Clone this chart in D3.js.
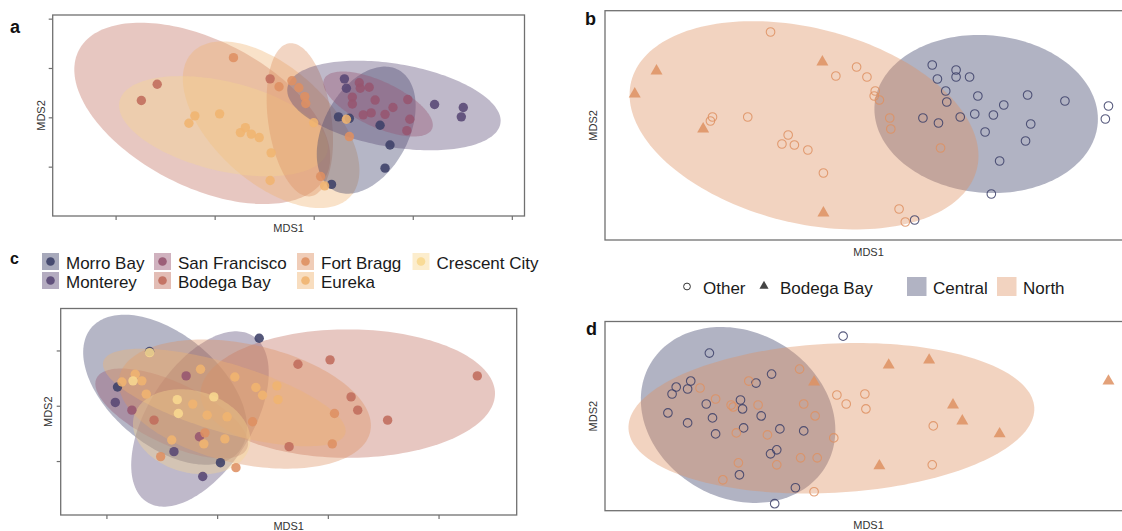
<!DOCTYPE html>
<html>
<head>
<meta charset="utf-8">
<script src="https://cdn.jsdelivr.net/npm/d3@7"></script>
<style>
  body { margin: 0; background: #fff; }
  text { font-family: "Liberation Sans", Arial, sans-serif; }
</style>
</head>
<body>
<svg id="fig" width="1122" height="531"></svg>
<script>
// ---- sites and palettes ----
const sites = ["Morro Bay", "Monterey", "San Francisco", "Bodega Bay", "Fort Bragg", "Eureka", "Crescent City"];
const siteColors = ["#3c4068", "#584774", "#965570", "#c06c5c", "#de9062", "#f0b470", "#f8d890"];
const regions = ["Central", "North"];
const regionColors = ["#3c4068", "#de9062"];
const sources = ["Other", "Bodega Bay"];

// ---- panel a: NMDS scores by site [site, MDS1, MDS2] ----
const pointsA = [
  ["Morro Bay", 0.36, -0.02], ["Morro Bay", 0.67, -0.16], ["Morro Bay", 0.77, -0.56],
  ["Morro Bay", 0.72, -1.03], ["Morro Bay", 0.18, -1.36], ["Morro Bay", 0.25, 0.01],
  ["Monterey", 1.22, 0.26], ["Monterey", 1.51, 0.20], ["Monterey", 1.49, 0.01],
  ["Monterey", 0.31, 0.78], ["Monterey", 0.33, 0.59],
  ["San Francisco", 0.46, 0.70], ["San Francisco", 0.47, 0.59], ["San Francisco", 0.56, 0.61],
  ["San Francisco", 0.39, 0.41], ["San Francisco", 0.39, 0.27], ["San Francisco", 0.62, 0.35],
  ["San Francisco", 0.80, 0.20], ["San Francisco", 0.72, 0.06], ["San Francisco", 0.58, 0.09],
  ["San Francisco", 0.50, 0.05], ["San Francisco", 0.95, 0.36], ["San Francisco", 0.97, -0.04],
  ["San Francisco", 0.94, -0.27],
  ["Bodega Bay", -1.58, 0.67], ["Bodega Bay", -1.74, 0.34], ["Bodega Bay", -0.44, 0.78],
  ["Fort Bragg", -0.81, 1.21], ["Fort Bragg", -0.35, 0.62], ["Fort Bragg", -0.22, 0.74],
  ["Fort Bragg", -0.15, 0.60], ["Fort Bragg", -0.09, 0.42], ["Fort Bragg", -0.08, 0.28],
  ["Fort Bragg", 0.07, -1.20], ["Fort Bragg", 0.36, -0.39],
  ["Eureka", -1.26, -0.12], ["Eureka", -1.20, 0.03], ["Eureka", -0.95, 0.07],
  ["Eureka", -0.74, -0.31], ["Eureka", -0.69, -0.21], ["Eureka", -0.63, -0.34],
  ["Eureka", -0.55, -0.41], ["Eureka", -0.43, -0.72], ["Eureka", -0.44, -1.28],
  ["Eureka", 0.00, -0.11], ["Eureka", 0.11, -1.39], ["Eureka", 0.33, -0.04]
];
// confidence ellipses [group, centre MDS1, centre MDS2, semi-major, semi-minor, tilt deg]
const ellipsesA = [
  ["Bodega Bay", -1.125, 0.08, 1.40, 0.74, 27],
  ["Eureka", -0.43, -0.15, 1.08, 0.58, 42],
  ["Crescent City", -0.91, -0.18, 1.08, 0.45, 13.6],
  ["Fort Bragg", -0.14, -0.05, 0.78, 0.32, 82],
  ["Morro Bay", 0.53, -0.26, 0.69, 0.43, -62],
  ["Monterey", 0.81, 0.24, 1.09, 0.42, 9.6],
  ["San Francisco", 0.65, 0.27, 0.60, 0.23, 25]
];

// ---- panel b: [region, source, MDS1, MDS2] ----
const pointsB = [
  ["Central", "Other", 0.73, 0.55], ["Central", "Other", 0.96, 0.50], ["Central", "Other", 0.96, 0.43],
  ["Central", "Other", 1.09, 0.43], ["Central", "Other", 0.78, 0.41], ["Central", "Other", 0.86, 0.29],
  ["Central", "Other", 0.87, 0.18], ["Central", "Other", 1.17, 0.24], ["Central", "Other", 1.42, 0.15],
  ["Central", "Other", 1.65, 0.25], ["Central", "Other", 2.01, 0.19], ["Central", "Other", 2.43, 0.14],
  ["Central", "Other", 2.40, 0.01], ["Central", "Other", 0.64, 0.02], ["Central", "Other", 0.79, -0.03],
  ["Central", "Other", 1.00, 0.03], ["Central", "Other", 1.14, 0.06], ["Central", "Other", 1.32, 0.05],
  ["Central", "Other", 1.68, -0.04], ["Central", "Other", 1.24, -0.12], ["Central", "Other", 1.63, -0.21],
  ["Central", "Other", 1.38, -0.41], ["Central", "Other", 1.30, -0.74], ["Central", "Other", 0.56, -1.00],
  ["North", "Other", -0.83, 0.88], ["North", "Other", -0.20, 0.44], ["North", "Other", 0.00, 0.53],
  ["North", "Other", 0.10, 0.43], ["North", "Other", 0.18, 0.29], ["North", "Other", 0.17, 0.24],
  ["North", "Other", 0.22, 0.20], ["North", "Other", -1.05, 0.03], ["North", "Other", -1.39, 0.03],
  ["North", "Other", -1.41, -0.01], ["North", "Other", 0.32, 0.02], ["North", "Other", 0.33, -0.09],
  ["North", "Other", -0.66, -0.15], ["North", "Other", -0.72, -0.24], ["North", "Other", -0.60, -0.25],
  ["North", "Other", -0.47, -0.30], ["North", "Other", -0.32, -0.53], ["North", "Other", 0.81, -0.28],
  ["North", "Other", 0.41, -0.89], ["North", "Other", 0.47, -1.02],
  ["North", "Bodega Bay", -1.93, 0.49], ["North", "Bodega Bay", -2.14, 0.26], ["North", "Bodega Bay", -0.33, 0.58],
  ["North", "Bodega Bay", -0.32, -0.93], ["North", "Bodega Bay", -1.48, -0.09]
];
const ellipsesB = [
  ["Central", 1.25, 0.06, 1.08, 0.76, 5],
  ["North", -0.507, -0.053, 1.72, 0.94, 14.3]
];

// ---- panel c: [site, MDS1, MDS2] ----
const pointsC = [
  ["Morro Bay", 0.38, 1.22], ["Morro Bay", -0.61, 0.98], ["Morro Bay", -0.90, 0.34], ["Morro Bay", 0.03, -1.03],
  ["Monterey", -0.13, -1.28], ["Monterey", -0.39, -0.83], ["Monterey", -0.92, 0.06],
  ["San Francisco", -0.77, -0.08], ["San Francisco", -0.28, 0.54], ["San Francisco", -0.16, -0.56],
  ["Bodega Bay", 2.35, 0.54], ["Bodega Bay", 1.02, 0.83], ["Bodega Bay", 0.73, 0.75], ["Bodega Bay", 1.21, 0.16],
  ["Bodega Bay", 1.27, -0.08], ["Bodega Bay", 1.54, -0.26], ["Bodega Bay", 0.65, -0.74], ["Bodega Bay", -0.57, -0.26],
  ["Fort Bragg", 0.17, -1.12], ["Fort Bragg", 1.06, -0.14], ["Fort Bragg", 1.04, -0.69], ["Fort Bragg", -0.51, -0.92],
  ["Fort Bragg", -0.11, -0.49], ["Fort Bragg", 0.32, -0.29],
  ["Eureka", 0.54, 0.36], ["Eureka", 0.55, 0.11], ["Eureka", 0.35, 0.33], ["Eureka", 0.16, 0.52],
  ["Eureka", -0.68, 0.45], ["Eureka", -0.74, 0.57], ["Eureka", -0.86, 0.43], ["Eureka", -0.64, 0.21],
  ["Eureka", -0.15, 0.66], ["Eureka", 0.09, -0.20], ["Eureka", -0.09, -0.17], ["Eureka", -0.22, 0.03],
  ["Eureka", 0.07, -0.60], ["Eureka", -0.12, -0.69], ["Eureka", -0.41, -0.62], ["Eureka", 0.41, 0.19],
  ["Crescent City", -0.61, 0.96], ["Crescent City", -0.76, 0.45], ["Crescent City", -0.03, 0.16],
  ["Crescent City", -0.36, 0.11], ["Crescent City", -0.35, -0.14]
];
const ellipsesC = [
  ["Morro Bay", -0.47, 0.29, 0.87, 0.50, 40],
  ["Monterey", -0.155, -0.24, 0.89, 0.47, -57.5],
  ["San Francisco", -0.41, -0.14, 0.75, 0.28, 25],
  ["Bodega Bay", 1.18, 0.22, 1.33, 0.58, 0],
  ["Fort Bragg", 0.25, 0.03, 1.16, 0.54, 12.4],
  ["Eureka", 0.065, 0.15, 1.14, 0.31, 16.6],
  ["Crescent City", -0.23, -0.47, 0.54, 0.37, 15]
];

// ---- panel d: [region, source, MDS1, MDS2] ----
const pointsD = [
  ["Central", "Other", -1.42, 0.64], ["Central", "Other", -0.13, 0.81], ["Central", "Other", -1.82, 0.04],
  ["Central", "Other", -1.78, 0.23], ["Central", "Other", -1.74, 0.30], ["Central", "Other", -1.63, 0.28],
  ["Central", "Other", -1.60, 0.36], ["Central", "Other", -1.63, -0.06], ["Central", "Other", -1.45, 0.13],
  ["Central", "Other", -1.39, -0.01], ["Central", "Other", -1.36, -0.17], ["Central", "Other", -1.12, 0.17],
  ["Central", "Other", -1.10, 0.08], ["Central", "Other", -1.09, -0.11], ["Central", "Other", -0.97, 0.34],
  ["Central", "Other", -0.92, 0.01], ["Central", "Other", -0.82, 0.43], ["Central", "Other", -0.74, -0.12],
  ["Central", "Other", -0.77, -0.33], ["Central", "Other", -0.83, -0.37], ["Central", "Other", -0.51, -0.14],
  ["Central", "Other", -1.13, -0.58], ["Central", "Other", -0.59, -0.71], ["Central", "Other", -0.79, -0.87],
  ["North", "Other", -1.51, 0.29], ["North", "Other", -1.36, 0.18], ["North", "Other", -1.21, 0.12],
  ["North", "Other", -1.19, 0.10], ["North", "Other", -1.04, 0.36], ["North", "Other", -0.95, 0.12],
  ["North", "Other", -1.16, -0.16], ["North", "Other", -0.86, -0.18], ["North", "Other", -0.55, 0.48],
  ["North", "Other", -0.51, 0.13], ["North", "Other", -0.40, 0.01], ["North", "Other", -0.22, -0.21],
  ["North", "Other", -0.19, 0.22], ["North", "Other", -0.10, 0.13], ["North", "Other", 0.08, 0.23],
  ["North", "Other", 0.09, 0.08], ["North", "Other", -0.54, -0.41], ["North", "Other", -0.38, -0.41],
  ["North", "Other", -1.14, -0.46], ["North", "Other", -0.77, -0.48], ["North", "Other", -1.29, -0.63],
  ["North", "Other", -0.41, -0.75], ["North", "Other", 0.74, -0.09], ["North", "Other", 0.73, -0.48],
  ["North", "Bodega Bay", -0.41, 0.35], ["North", "Bodega Bay", 0.31, 0.52], ["North", "Bodega Bay", 0.70, 0.57],
  ["North", "Bodega Bay", 0.93, 0.12], ["North", "Bodega Bay", 1.02, -0.04], ["North", "Bodega Bay", 1.38, -0.17],
  ["North", "Bodega Bay", 0.22, -0.49], ["North", "Bodega Bay", 2.43, 0.36]
];
const ellipsesD = [
  ["Central", -1.143, 0.02, 0.98, 0.80, 30],
  ["North", -0.243, -0.013, 1.96, 0.72, -3]
];

// ---- tick values ----
const ticksAx = [-2, -1, 0, 1, 2];
const ticksAy = [-1, 0, 1, 2];
const ticksCx = [-1, 0, 1, 2];
const ticksCy = [-1, 0, 1];

// ---- page layout ----
const panels = {
  a: { x0: 52.7, x1: 524.5, y0: 15, y1: 216, xDom: [-2.635, 2.128], yDom: [-2.0, 2.074], xt: ticksAx, yt: ticksAy,
       letter: [10, 33, 18], mds1: 232, mds2x: 44.5 },
  b: { x0: 605, x1: 1132, y0: 10.7, y1: 240, xDom: [-2.427, 2.657], yDom: [-1.2, 1.093], xt: [], yt: [],
       letter: [585, 25, 18], mds1: 255.5, mds2x: 597 },
  c: { x0: 60.7, x1: 516.7, y0: 308.5, y1: 515, xDom: [-1.413, 2.706], yDom: [-1.976, 1.759], xt: ticksCx, yt: ticksCy,
       letter: [10, 264, 16], mds1: 530, mds2x: 52 },
  d: { x0: 605, x1: 1132, y0: 321.5, y1: 510.7, xDom: [-2.427, 2.657], yDom: [-0.94, 0.957], xt: [], yt: [],
       letter: [586, 335, 18], mds1: 528.5, mds2x: 597 }
};

const svg = d3.select("#fig");
svg.append("rect").attr("width", 1122).attr("height", 531).attr("fill", "#fff");
const siteColor = d3.scaleOrdinal(sites, siteColors);
const regionColor = d3.scaleOrdinal(regions, regionColors);
const shape = d3.scaleOrdinal(sources, [d3.symbolCircle, d3.symbolTriangle]);

const FRAME = "#707070";
const ELL_ALPHA = 0.38;

function makePanel(key) {
  const P = panels[key];
  const x = d3.scaleLinear().domain(P.xDom).range([P.x0, P.x1]);
  const y = d3.scaleLinear().domain(P.yDom).range([P.y1, P.y0]);
  const g = svg.append("g").attr("class", "panel-" + key);
  g.append("clipPath").attr("id", "clip-" + key)
    .append("rect").attr("x", P.x0).attr("y", P.y0).attr("width", P.x1 - P.x0).attr("height", P.y1 - P.y0);
  const plot = g.append("g").attr("clip-path", `url(#clip-${key})`);

  // axes (ticks only, no labels)
  if (P.xt.length) {
    const ax = g.append("g").attr("transform", `translate(0,${P.y1})`)
      .call(d3.axisBottom(x).tickValues(P.xt).tickSize(4).tickFormat(""));
    ax.select(".domain").remove();
    ax.selectAll("line").attr("stroke", FRAME).attr("stroke-width", 1.2);
  }
  if (P.yt.length) {
    const ay = g.append("g").attr("transform", `translate(${P.x0},0)`)
      .call(d3.axisLeft(y).tickValues(P.yt).tickSize(4).tickFormat(""));
    ay.select(".domain").remove();
    ay.selectAll("line").attr("stroke", FRAME).attr("stroke-width", 1.2);
  }

  // titles and panel letter
  g.append("text").attr("x", (P.x0 + P.x1) / 2).attr("y", P.mds1)
    .attr("text-anchor", "middle").attr("font-size", 11).attr("fill", "#333").text("MDS1");
  g.append("text").attr("transform", `translate(${P.mds2x},${(P.y0 + P.y1) / 2}) rotate(-90)`)
    .attr("text-anchor", "middle").attr("font-size", 11).attr("fill", "#333").text("MDS2");
  g.append("text").attr("x", P.letter[0]).attr("y", P.letter[1])
    .attr("font-size", P.letter[2]).attr("font-weight", "bold").attr("fill", "#111").text(key);

  return { g, plot, x, y, P };
}

function ellipsePath(x, y, e) {
  const [, cx, cy, a, b, ang] = e;
  const kx = x(1) - x(0), ky = y(0) - y(1);
  const th = ang * Math.PI / 180;
  const pts = d3.range(0, 360, 2).map(deg => {
    const t = deg * Math.PI / 180;
    const ux = a * Math.cos(t) * Math.cos(th) - b * Math.sin(t) * Math.sin(th);
    const uy = a * Math.cos(t) * Math.sin(th) + b * Math.sin(t) * Math.cos(th);
    return [cx + ux, cy - uy * kx / ky];
  });
  return d3.line().x(d => x(d[0])).y(d => y(d[1])).curve(d3.curveLinearClosed)(pts);
}

function drawFrame(p) {
  const P = p.P;
  p.g.append("rect").attr("x", P.x0).attr("y", P.y0).attr("width", P.x1 - P.x0).attr("height", P.y1 - P.y0)
    .attr("fill", "none").attr("stroke", FRAME).attr("stroke-width", 1.3);
}

// ---- site panels (a, c) ----
function sitePanel(key, ells, pts) {
  const p = makePanel(key);
  p.plot.selectAll("path.ell").data(ells).join("path").attr("class", "ell")
    .attr("d", e => ellipsePath(p.x, p.y, e))
    .attr("fill", e => siteColor(e[0])).attr("fill-opacity", ELL_ALPHA);
  p.plot.selectAll("circle.pt").data(pts).join("circle").attr("class", "pt")
    .attr("cx", d => p.x(d[1])).attr("cy", d => p.y(d[2])).attr("r", 4.7)
    .attr("fill", d => siteColor(d[0])).attr("fill-opacity", 0.88);
  drawFrame(p);
}

// ---- region panels (b, d) ----
function regionPanel(key, ells, pts) {
  const p = makePanel(key);
  p.plot.selectAll("path.ell").data(ells).join("path").attr("class", "ell")
    .attr("d", e => ellipsePath(p.x, p.y, e))
    .attr("fill", e => regionColor(e[0])).attr("fill-opacity", 0.4);
  p.plot.selectAll("path.pt").data(pts).join("path").attr("class", "pt")
    .attr("transform", d => `translate(${p.x(d[2])},${p.y(d[3])})`)
    .attr("d", d => d3.symbol(shape(d[1]), d[1] === "Other" ? 58 : 62)())
    .attr("fill", d => d[1] === "Other" ? "none" : regionColor(d[0]))
    .attr("fill-opacity", 0.85)
    .attr("stroke", d => d[1] === "Other" ? regionColor(d[0]) : "none")
    .attr("stroke-opacity", 0.85)
    .attr("stroke-width", 1.1);
  drawFrame(p);
}

sitePanel("a", ellipsesA, pointsA);
regionPanel("b", ellipsesB, pointsB);
sitePanel("c", ellipsesC, pointsC);
regionPanel("d", ellipsesD, pointsD);

// ---- site legend above panel c ----
const legC = svg.append("g");
const colX = [42, 154, 297, 412.5];
const rowY = [253, 272];
sites.forEach((s, i) => {
  const cx = colX[Math.floor(i / 2)], ry = rowY[i % 2];
  legC.append("rect").attr("x", cx).attr("y", ry).attr("width", 17).attr("height", 17)
    .attr("fill", siteColor(s)).attr("fill-opacity", 0.45);
  legC.append("circle").attr("cx", cx + 8.5).attr("cy", ry + 8.5).attr("r", 4.3)
    .attr("fill", siteColor(s)).attr("fill-opacity", 0.9);
  legC.append("text").attr("x", cx + 24).attr("y", ry + 16).attr("font-size", 17)
    .attr("fill", "#1a1a1a").text(s);
});

// ---- source / region legend above panel d ----
const legD = svg.append("g");
legD.append("circle").attr("cx", 687).attr("cy", 286.5).attr("r", 3.4)
  .attr("fill", "none").attr("stroke", "#333").attr("stroke-width", 1);
legD.append("text").attr("x", 703).attr("y", 294).attr("font-size", 17).attr("fill", "#1a1a1a").text(sources[0]);
legD.append("path").attr("transform", "translate(764,286)").attr("d", d3.symbol(d3.symbolTriangle, 36)())
  .attr("fill", "#444");
legD.append("text").attr("x", 780).attr("y", 294).attr("font-size", 17).attr("fill", "#1a1a1a").text(sources[1]);
[[907, 933], [997, 1023]].forEach(([kx, tx], i) => {
  legD.append("rect").attr("x", kx).attr("y", 277).attr("width", 19.5).attr("height", 19)
    .attr("fill", regionColor(regions[i])).attr("fill-opacity", 0.4);
  legD.append("text").attr("x", tx).attr("y", 294).attr("font-size", 17).attr("fill", "#1a1a1a").text(regions[i]);
});
</script>
</body>
</html>
